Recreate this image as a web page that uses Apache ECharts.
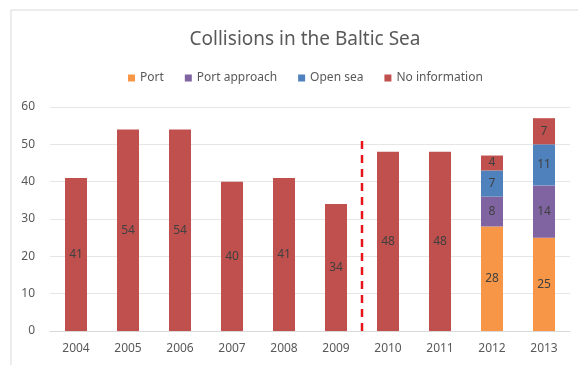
<!DOCTYPE html>
<html><head><meta charset="utf-8">
<script src="https://cdn.jsdelivr.net/npm/echarts@6/dist/echarts.min.js"></script>
<style>html,body{margin:0;padding:0;background:#fff}#c{width:578px;height:365px}</style>
</head><body><div id="c"></div>
<script>
const years = ['2004','2005','2006','2007','2008','2009','2010','2011','2012','2013'];
const port = ['-','-','-','-','-','-','-','-',28,25];
const portApproach = ['-','-','-','-','-','-','-','-',8,14];
const openSea = ['-','-','-','-','-','-','-','-',7,11];
const noInfo = [41,54,54,40,41,34,48,48,4,7];
const yTicks = [0,10,20,30,40,50,60];
const dividerX = 5.5;
const dividerTop = 52;

const font = '"Noto Sans", sans-serif';
const labelStyle = {show:true, position:'inside', color:'#404040', fontSize:12, fontFamily:font,
  formatter: p => p.value};
function bar(name, data, color){
  return {name, type:'bar', stack:'a', data, barWidth:22, itemStyle:{color}, label:labelStyle,
    xAxisIndex:0, yAxisIndex:0};
}
const chart = echarts.init(document.getElementById('c'));
chart.setOption({
  animation:false,
  textStyle:{fontFamily:font},
  title:{text:'Collisions in the Baltic Sea', left:300, textAlign:'center', top:25,
    textStyle:{fontSize:19, fontWeight:'normal', color:'#595959', fontFamily:font}},
  legend:{top:67, left:123, itemWidth:7, itemHeight:7, itemGap:21, icon:'rect',
    textStyle:{fontSize:12, color:'#595959', fontFamily:font},
    data:['Port','Port approach','Open sea','No information']},
  graphic:[{type:'rect', shape:{x:11, y:10, width:620, height:400}, style:{fill:'none', stroke:'#d9d9d9', lineWidth:1}, silent:true}],
  grid:{left:50, right:8, top:107, bottom:34},
  xAxis:[{type:'category', data:years, axisTick:{show:false},
    axisLine:{lineStyle:{color:'#d9d9d9'}},
    axisLabel:{color:'#595959', fontSize:12, margin:12, fontFamily:font}},
    {type:'value', min:-0.5, max:9.5, show:false}],
  yAxis:{type:'value', min:yTicks[0], max:yTicks[yTicks.length-1], interval:10,
    axisLine:{show:false}, axisTick:{show:false},
    splitLine:{lineStyle:{color:'#e6e6e6'}},
    axisLabel:{color:'#595959', fontSize:12, margin:15, fontFamily:font}},
  series:[
    bar('Port', port, '#F79646'),
    bar('Port approach', portApproach, '#8064A2'),
    bar('Open sea', openSea, '#4F81BD'),
    bar('No information', noInfo, '#C0504D'),
    {type:'line', xAxisIndex:1, yAxisIndex:0, data:[[dividerX,0],[dividerX,dividerTop]],
      symbol:'none', lineStyle:{color:'#E8141B', width:2.5, type:[8,6]}, silent:true, z:5}
  ]
});
</script></body></html>
